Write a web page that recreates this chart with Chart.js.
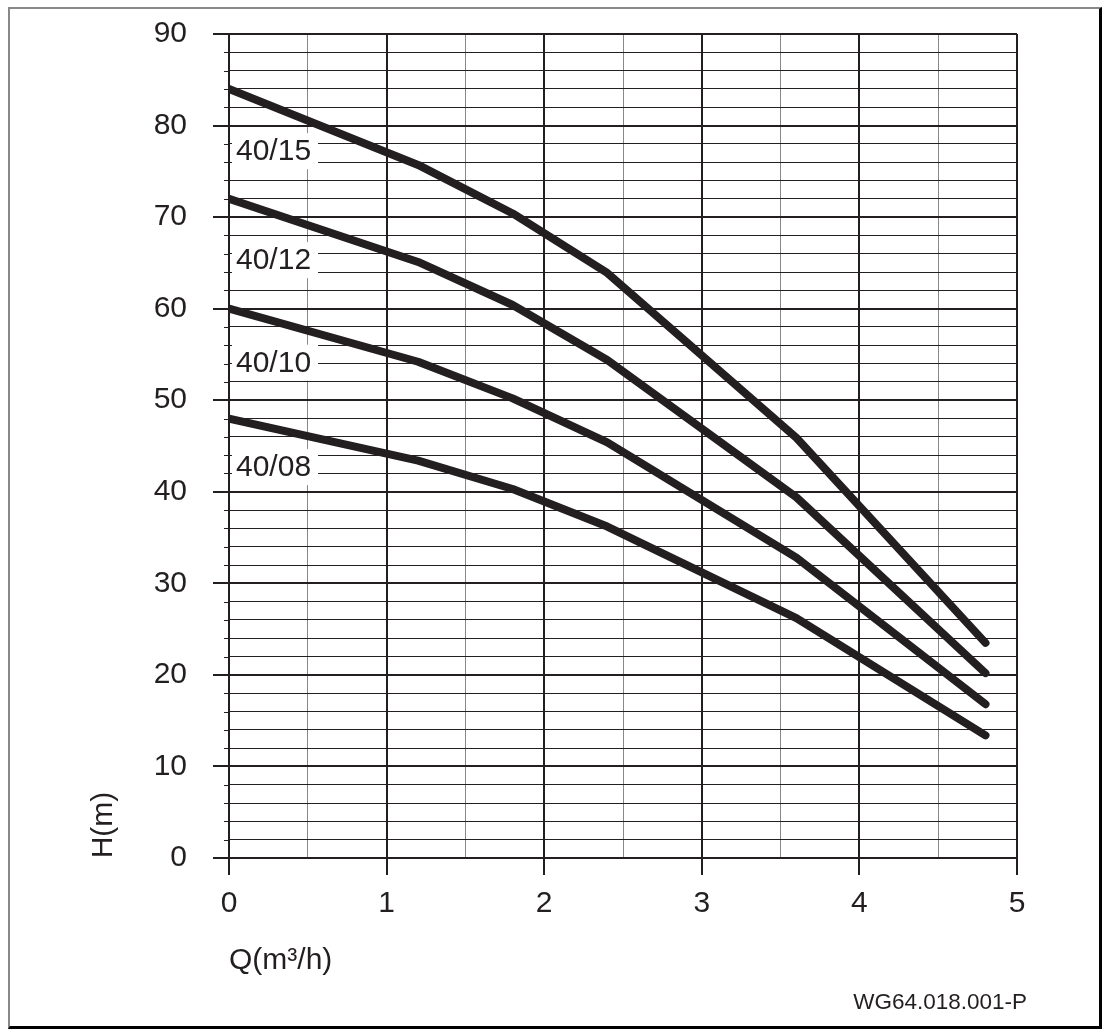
<!DOCTYPE html>
<html>
<head>
<meta charset="utf-8">
<script src="https://cdn.jsdelivr.net/npm/chart.js@4/dist/chart.umd.min.js"></script>
<style>
  body { margin: 0; background: #fff; }
  #wrap { position: relative; width: 1103px; height: 1030px; }
  #frame {
    position: absolute; left: 8px; top: 7px; width: 1094px; height: 1022px;
    box-sizing: border-box;
    border-left: 2px solid #888; border-top: 2px solid #888;
    border-right: 3px solid #000; border-bottom: 3px solid #000;
    pointer-events: none;
  }
  canvas { position: absolute; left: 0; top: 0; }
</style>
</head>
<body>
<div id="wrap">
  <canvas id="pump" width="1103" height="1030"></canvas>
  <div id="frame"></div>
</div>
<script>
// pump curves, flow Q (m3/h) vs head H (m)
const flowQ = [0, 1.2, 1.8, 2.4, 3.6, 4.8];
const head4015 = [84, 75.7, 70.4, 63.9, 45.9, 23.5];
const head4012 = [72, 65.1, 60.4, 54.4, 39.4, 20.2];
const head4010 = [60, 54.2, 50.2, 45.4, 32.8, 16.8];
const head4008 = [48, 43.4, 40.3, 36.2, 26.2, 13.4];
const seriesNames = ['40/15', '40/12', '40/10', '40/08'];
const labelH = [77.2, 65.3, 54.1, 42.7];

const FONT = '"Liberation Sans", Arial, sans-serif';
const INK = '#231f20';

const pts = h => flowQ.map((q, i) => ({ x: q, y: h[i] }));

const curveLabels = {
  id: 'curveLabels',
  beforeDatasetsDraw(chart) {
    const c = chart.ctx, xs = chart.scales.x, ys = chart.scales.y;
    c.save();
    c.font = '30px ' + FONT;
    c.textBaseline = 'middle';
    seriesNames.forEach((name, i) => {
      const x0 = xs.getPixelForValue(0) + 5;
      const y = ys.getPixelForValue(labelH[i]);
      const w = c.measureText(name).width;
      c.fillStyle = '#fff';
      c.fillRect(x0 - 2, y - 18, w + 11, 36);
      c.fillStyle = INK;
      c.fillText(name, x0 + 2, y + 1);
    });
    c.restore();
  }
};

const extras = {
  id: 'extras',
  afterDraw(chart) {
    const c = chart.ctx, xs = chart.scales.x, ys = chart.scales.y;
    c.save();
    // short minor ticks on the y axis
    c.strokeStyle = INK;
    c.lineWidth = 1;
    ys.ticks.forEach(t => {
      if (t.value % 10 !== 0) {
        const y = Math.round(ys.getPixelForValue(t.value)) + 0.5;
        c.beginPath();
        c.moveTo(xs.left - 5, y);
        c.lineTo(xs.left, y);
        c.stroke();
      }
    });
    c.fillStyle = INK;
    c.font = '30px ' + FONT;
    c.textBaseline = 'middle';
    c.textAlign = 'left';
    c.fillText('Q(m³/h)', 229, 961);
    c.save();
    c.translate(104, 825);
    c.rotate(-Math.PI / 2);
    c.textAlign = 'center';
    c.fillText('H(m)', 0, 0);
    c.restore();
    c.font = '22.5px ' + FONT;
    c.textAlign = 'right';
    c.fillText('WG64.018.001-P', 1027, 1003);
    c.restore();
  }
};

const curveStyle = {
  borderColor: INK,
  borderWidth: 8,
  borderCapStyle: 'round',
  borderJoinStyle: 'round',
  pointRadius: 0,
  showLine: true,
  tension: 0,
  fill: false
};

new Chart(document.getElementById('pump'), {
  type: 'scatter',
  data: {
    datasets: [
      { label: seriesNames[0], data: pts(head4015), ...curveStyle },
      { label: seriesNames[1], data: pts(head4012), ...curveStyle },
      { label: seriesNames[2], data: pts(head4010), ...curveStyle },
      { label: seriesNames[3], data: pts(head4008), ...curveStyle }
    ]
  },
  options: {
    responsive: false,
    animation: false,
    layout: { padding: { left: 0, top: 34, right: 86, bottom: 0 } },
    plugins: { legend: { display: false }, tooltip: { enabled: false } },
    scales: {
      x: {
        type: 'linear',
        min: 0, max: 5,
        afterFit: s => { s.height = 172; s.paddingLeft = 0; s.paddingRight = 0; },
        border: { display: false },
        grid: {
          color: ctx => Number.isInteger(ctx.tick.value) ? INK : '#888',
          lineWidth: ctx => Number.isInteger(ctx.tick.value) ? 2 : 1,
          tickColor: ctx => Number.isInteger(ctx.tick.value) ? INK : 'rgba(0,0,0,0)',
          tickLength: 17
        },
        ticks: {
          stepSize: 0.5,
          autoSkip: false,
          maxRotation: 0,
          padding: 11,
          color: INK,
          font: { family: FONT, size: 30 },
          callback: v => Number.isInteger(v) ? v : ''
        }
      },
      y: {
        type: 'linear',
        min: 0, max: 90,
        afterFit: s => { s.width = 229; s.paddingTop = 0; s.paddingBottom = 0; },
        border: { display: false },
        grid: {
          color: INK,
          lineWidth: ctx => ctx.tick.value % 10 === 0 ? 2 : 1,
          tickColor: ctx => ctx.tick.value % 10 === 0 ? INK : 'rgba(0,0,0,0)',
          tickLength: 16
        },
        ticks: {
          stepSize: 2,
          autoSkip: false,
          padding: 26,
          color: INK,
          font: { family: FONT, size: 30 },
          callback: v => v % 10 === 0 ? v : ''
        }
      }
    }
  },
  plugins: [curveLabels, extras]
});
</script>
</body>
</html>
